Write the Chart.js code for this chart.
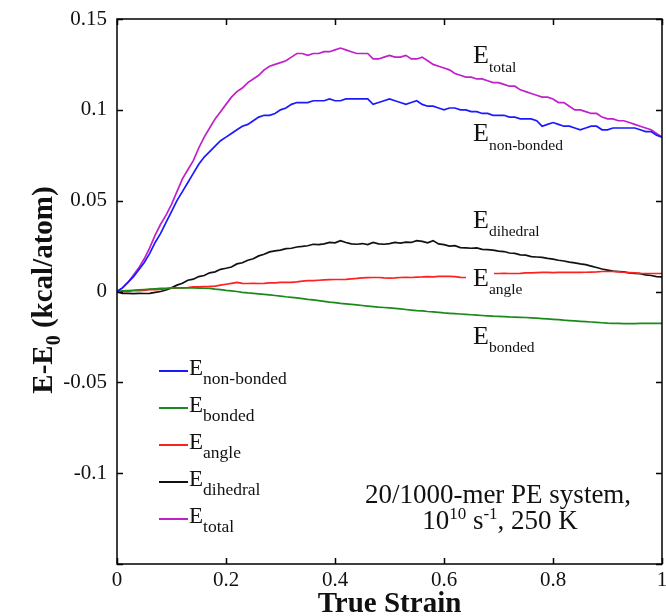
<!DOCTYPE html>
<html>
<head>
<meta charset="utf-8">
<script src="https://cdn.jsdelivr.net/npm/chart.js@4.4.1/dist/chart.umd.min.js"></script>
<style>
html,body{margin:0;padding:0;background:#fff;}
#wrap{width:666px;height:616px;}
</style>
</head>
<body>
<div id="wrap"><canvas id="c" width="666" height="616"></canvas></div>
<script>
const strain = [0.00,0.01,0.02,0.03,0.04,0.05,0.06,0.07,0.08,0.09,0.10,0.11,0.12,0.13,0.14,0.15,0.16,0.17,0.18,0.19,0.20,0.21,0.22,0.23,0.24,0.25,0.26,0.27,0.28,0.29,0.30,0.31,0.32,0.33,0.34,0.35,0.36,0.37,0.38,0.39,0.40,0.41,0.42,0.43,0.44,0.45,0.46,0.47,0.48,0.49,0.50,0.51,0.52,0.53,0.54,0.55,0.56,0.57,0.58,0.59,0.60,0.61,0.62,0.63,0.64,0.65,0.66,0.67,0.68,0.69,0.70,0.71,0.72,0.73,0.74,0.75,0.76,0.77,0.78,0.79,0.80,0.81,0.82,0.83,0.84,0.85,0.86,0.87,0.88,0.89,0.90,0.91,0.92,0.93,0.94,0.95,0.96,0.97,0.98,0.99,1.00];

const eNonBonded = [0.000,0.002,0.005,0.008,0.012,0.016,0.021,0.027,0.032,0.038,0.044,0.050,0.055,0.060,0.065,0.070,0.074,0.077,0.080,0.083,0.085,0.087,0.089,0.091,0.092,0.094,0.096,0.097,0.097,0.098,0.100,0.101,0.103,0.104,0.104,0.104,0.105,0.105,0.105,0.106,0.105,0.105,0.106,0.106,0.106,0.106,0.106,0.103,0.104,0.105,0.106,0.105,0.104,0.103,0.104,0.105,0.103,0.102,0.102,0.101,0.100,0.101,0.101,0.100,0.100,0.099,0.099,0.098,0.098,0.097,0.097,0.097,0.096,0.096,0.095,0.095,0.095,0.094,0.091,0.092,0.093,0.092,0.091,0.091,0.090,0.089,0.090,0.091,0.091,0.089,0.089,0.090,0.090,0.090,0.090,0.090,0.089,0.088,0.088,0.086,0.085];

const eBonded = [0.0000,0.0003,0.0005,0.0007,0.0009,0.0011,0.0013,0.0015,0.0017,0.0018,0.0020,0.0020,0.0020,0.0020,0.0020,0.0019,0.0018,0.0017,0.0013,0.0010,0.0006,0.0003,0.0000,-0.0005,-0.0008,-0.0010,-0.0013,-0.0016,-0.0019,-0.0022,-0.0025,-0.0029,-0.0032,-0.0035,-0.0039,-0.0043,-0.0046,-0.0050,-0.0054,-0.0058,-0.0061,-0.0065,-0.0068,-0.0071,-0.0074,-0.0077,-0.0080,-0.0083,-0.0086,-0.0088,-0.0090,-0.0093,-0.0096,-0.0099,-0.0102,-0.0105,-0.0107,-0.0110,-0.0112,-0.0115,-0.0118,-0.0120,-0.0122,-0.0124,-0.0126,-0.0128,-0.0130,-0.0132,-0.0134,-0.0136,-0.0137,-0.0138,-0.0140,-0.0141,-0.0142,-0.0143,-0.0145,-0.0147,-0.0149,-0.0151,-0.0153,-0.0155,-0.0158,-0.0160,-0.0162,-0.0164,-0.0166,-0.0168,-0.0170,-0.0172,-0.0174,-0.0175,-0.0176,-0.0177,-0.0177,-0.0177,-0.0176,-0.0176,-0.0175,-0.0175,-0.0175];

const eAngle = [0.0000,0.0000,0.0000,0.0005,0.0005,0.0006,0.0010,0.0010,0.0012,0.0015,0.0018,0.0020,0.0020,0.0022,0.0025,0.0025,0.0027,0.0028,0.0030,0.0035,0.0040,0.0045,0.0050,0.0045,0.0044,0.0045,0.0044,0.0045,0.0047,0.0048,0.0050,0.0050,0.0050,0.0053,0.0057,0.0060,0.0060,0.0062,0.0064,0.0065,0.0066,0.0066,0.0067,0.0070,0.0072,0.0075,0.0076,0.0077,0.0077,0.0075,0.0074,0.0075,0.0077,0.0078,0.0077,0.0079,0.0080,0.0082,0.0081,0.0083,0.0083,0.0083,0.0082,0.0078,0.0077,0.0080,0.0085,0.0090,0.0095,0.0099,0.0099,0.0100,0.0099,0.0099,0.0100,0.0102,0.0103,0.0104,0.0105,0.0105,0.0104,0.0105,0.0106,0.0105,0.0105,0.0105,0.0106,0.0107,0.0108,0.0110,0.0110,0.0110,0.0108,0.0106,0.0104,0.0102,0.0100,0.0099,0.0099,0.0099,0.0099];

const eDihedral = [0.0000,-0.0010,-0.0010,-0.0012,-0.0010,-0.0011,-0.0010,-0.0005,0.0000,0.0008,0.0020,0.0035,0.0045,0.0062,0.0068,0.0082,0.0088,0.0103,0.0108,0.0122,0.0128,0.0135,0.0152,0.0158,0.0172,0.0180,0.0196,0.0205,0.0218,0.0224,0.0228,0.0236,0.0238,0.0245,0.0248,0.0252,0.0260,0.0258,0.0262,0.0270,0.0268,0.0280,0.0270,0.0262,0.0260,0.0264,0.0258,0.0270,0.0262,0.0260,0.0264,0.0270,0.0266,0.0272,0.0270,0.0280,0.0276,0.0268,0.0280,0.0262,0.0258,0.0250,0.0252,0.0242,0.0240,0.0238,0.0240,0.0232,0.0230,0.0228,0.0222,0.0220,0.0212,0.0210,0.0202,0.0200,0.0192,0.0190,0.0188,0.0182,0.0178,0.0172,0.0168,0.0162,0.0158,0.0152,0.0148,0.0140,0.0132,0.0124,0.0118,0.0112,0.0110,0.0108,0.0102,0.0100,0.0098,0.0092,0.0088,0.0082,0.0080];

const eTotal = [0.000,0.002,0.005,0.009,0.013,0.018,0.024,0.031,0.037,0.042,0.048,0.055,0.062,0.067,0.072,0.079,0.085,0.090,0.095,0.099,0.103,0.107,0.110,0.112,0.115,0.117,0.119,0.122,0.124,0.125,0.126,0.127,0.129,0.131,0.131,0.130,0.131,0.131,0.132,0.132,0.133,0.134,0.133,0.132,0.131,0.131,0.131,0.128,0.128,0.129,0.130,0.129,0.129,0.130,0.128,0.128,0.129,0.127,0.125,0.124,0.123,0.122,0.120,0.119,0.118,0.118,0.117,0.117,0.116,0.115,0.115,0.114,0.113,0.113,0.111,0.110,0.109,0.108,0.107,0.107,0.106,0.104,0.104,0.102,0.100,0.100,0.099,0.098,0.098,0.096,0.095,0.095,0.094,0.094,0.093,0.092,0.091,0.090,0.089,0.087,0.085];

const xTicks = [0, 0.2, 0.4, 0.6, 0.8, 1];
const xTickLabels = ['0', '0.2', '0.4', '0.6', '0.8', '1'];
const yTicks = [-0.15, -0.1, -0.05, 0, 0.05, 0.1, 0.15];
const yTickLabels = ['', '-0.1', '-0.05', '0', '0.05', '0.1', '0.15'];

const seriesNames = ['non-bonded', 'bonded', 'angle', 'dihedral', 'total'];
const seriesColors = ['#1a1aff', '#1a8a1a', '#ff2020', '#111111', '#c020c8'];
const seriesValues = [eNonBonded, eBonded, eAngle, eDihedral, eTotal];

const SERIF = '"Liberation Serif", "Times New Roman", serif';

function pts(vals){ return vals.map((v,i)=>({x:strain[i], y:v})); }

function drawSub(ctx, x, y, main, sub, mainSize, subSize, subDrop){
  ctx.font = mainSize + 'px ' + SERIF;
  ctx.textAlign = 'left';
  ctx.textBaseline = 'alphabetic';
  ctx.fillText(main, x, y);
  const w = ctx.measureText(main).width;
  ctx.font = subSize + 'px ' + SERIF;
  ctx.fillText(sub, x + w, y + subDrop);
  return x + w + ctx.measureText(sub).width;
}

const decor = {
  id: 'decor',
  afterDatasetsDraw(chart){
    const ctx = chart.ctx;
    const {left, right, top, bottom} = chart.chartArea;
    const xs = chart.scales.x, ys = chart.scales.y;
    ctx.save();
    // white gap behind E_angle label
    ctx.fillStyle = '#fff';
    ctx.fillRect(466, 265, 28, 23);
    // frame
    ctx.strokeStyle = '#000';
    ctx.lineWidth = 1.5;
    ctx.strokeRect(left, top, right - left, bottom - top);
    ctx.beginPath();
    xTicks.forEach(v => {
      const p = Math.round(xs.getPixelForValue(v)) + 0.5;
      ctx.moveTo(p, bottom); ctx.lineTo(p, bottom - 6);
      ctx.moveTo(p, top); ctx.lineTo(p, top + 6);
    });
    yTicks.forEach(v => {
      const p = Math.round(ys.getPixelForValue(v)) + 0.5;
      ctx.moveTo(left, p); ctx.lineTo(left + 6, p);
      ctx.moveTo(right, p); ctx.lineTo(right - 6, p);
    });
    ctx.stroke();

    ctx.fillStyle = '#111';
    // curve annotations
    const ann = [
      ['total', 63, 72],
      ['non-bonded', 141, 150],
      ['dihedral', 228, 236],
      ['angle', 286, 294],
      ['bonded', 344, 352]
    ];
    ann.forEach(a => {
      ctx.font = '26px ' + SERIF;
      ctx.textAlign = 'left';
      ctx.fillText('E', 473, a[1]);
      const w = ctx.measureText('E').width;
      ctx.font = '15.5px ' + SERIF;
      ctx.fillText(a[0], 473 + w, a[2]);
    });

    // legend
    const ly = [371, 408, 445, 482, 519];
    seriesNames.forEach((n, i) => {
      ctx.strokeStyle = seriesColors[i];
      ctx.lineWidth = 2;
      ctx.beginPath();
      ctx.moveTo(159, ly[i]); ctx.lineTo(188, ly[i]);
      ctx.stroke();
      ctx.fillStyle = '#111';
      drawSub(ctx, 189, ly[i] + 4, 'E', n, 23, 17.5, 9);
    });

    // system description box text
    ctx.fillStyle = '#111';
    ctx.font = '27px ' + SERIF;
    ctx.textAlign = 'center';
    ctx.fillText('20/1000-mer PE system,', 498, 503);
    // second line with superscripts
    const parts = [['10', 27, 0], ['10', 17, -10], [' s', 27, 0], ['-1', 17, -10], [', 250 K', 27, 0]];
    let tw = 0;
    parts.forEach(p => { ctx.font = p[1] + 'px ' + SERIF; tw += ctx.measureText(p[0]).width; });
    let cx = 500 - tw / 2;
    ctx.textAlign = 'left';
    parts.forEach(p => { ctx.font = p[1] + 'px ' + SERIF; ctx.fillText(p[0], cx, 529 + p[2]); cx += ctx.measureText(p[0]).width; });

    // y-axis title with subscript
    ctx.save();
    ctx.translate(52, 290);
    ctx.rotate(-Math.PI / 2);
    const tparts = [['E-E', 29, 0], ['0', 20, 8], [' (kcal/atom)', 29, 0]];
    let ttw = 0;
    tparts.forEach(p => { ctx.font = 'bold ' + p[1] + 'px ' + SERIF; ttw += ctx.measureText(p[0]).width; });
    let tx = -ttw / 2;
    tparts.forEach(p => { ctx.font = 'bold ' + p[1] + 'px ' + SERIF; ctx.fillText(p[0], tx, p[2]); tx += ctx.measureText(p[0]).width; });
    ctx.restore();
    ctx.restore();
  }
};

new Chart(document.getElementById('c'), {
  type: 'line',
  data: {
    datasets: seriesNames.map((n, i) => ({
      label: 'E ' + n,
      data: pts(seriesValues[i]),
      borderColor: seriesColors[i],
      backgroundColor: seriesColors[i],
      borderWidth: 1.7,
      pointRadius: 0,
      tension: 0,
      fill: false
    }))
  },
  options: {
    responsive: false,
    animation: false,
    layout: { padding: { left: 0, right: 4, top: 19, bottom: 0 } },
    plugins: { legend: { display: false }, tooltip: { enabled: false } },
    scales: {
      x: {
        type: 'linear', min: 0, max: 1,
        afterBuildTicks: s => { s.ticks = xTicks.map(v => ({ value: v })); },
        afterFit: s => { s.height = 52; s.paddingLeft = 0; s.paddingRight = 0; },
        grid: { display: false, drawTicks: false },
        border: { display: false },
        ticks: {
          padding: 4,
          color: '#111',
          font: { family: SERIF, size: 21 },
          maxRotation: 0,
          callback: (v) => { const k = xTicks.findIndex(t => Math.abs(t - v) < 1e-9); return k >= 0 ? xTickLabels[k] : ''; }
        },
        title: {
          display: true, text: 'True Strain', color: '#111',
          font: { family: SERIF, size: 29, weight: 'bold', lineHeight: 0.8 },
          padding: { top: 0, bottom: 0 }
        }
      },
      y: {
        type: 'linear', min: -0.15, max: 0.15,
        afterBuildTicks: s => { s.ticks = yTicks.map(v => ({ value: v })); },
        afterFit: s => { s.width = 117; s.paddingTop = 0; s.paddingBottom = 0; },
        grid: { display: false, drawTicks: false },
        border: { display: false },
        ticks: {
          padding: 10,
          color: '#111',
          font: { family: SERIF, size: 21 },
          callback: (v) => { const k = yTicks.findIndex(t => Math.abs(t - v) < 1e-9); return k >= 0 ? yTickLabels[k] : ''; }
        }
      }
    }
  },
  plugins: [decor]
});
</script>
</body>
</html>
